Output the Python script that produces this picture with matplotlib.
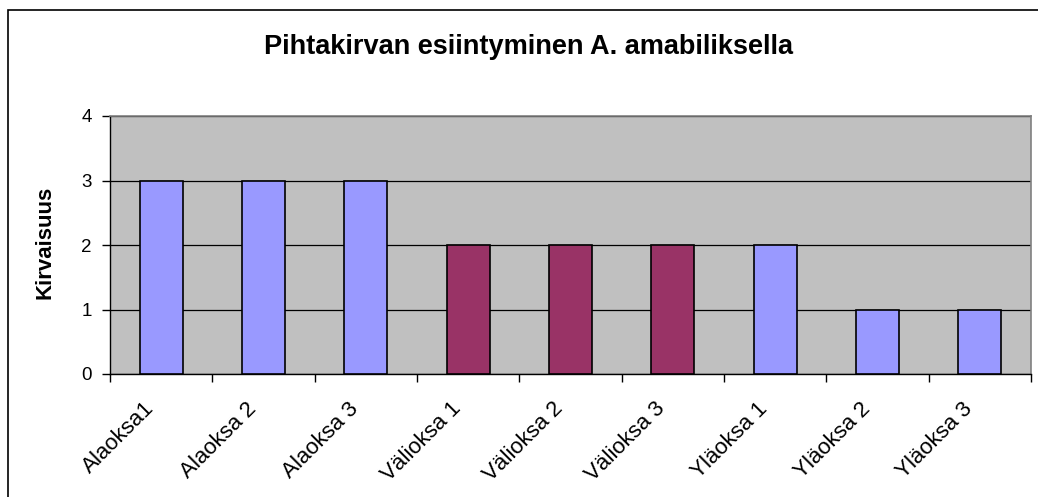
import matplotlib
matplotlib.use("Agg")
import matplotlib.pyplot as plt
from matplotlib.patches import Rectangle
from matplotlib.transforms import offset_copy

categories = ["Alaoksa1", "Alaoksa 2", "Alaoksa 3", "Välioksa 1", "Välioksa 2",
              "Välioksa 3", "Yläoksa 1", "Yläoksa 2", "Yläoksa 3"]
values = [3, 3, 3, 2, 2, 2, 2, 1, 1]
bar_colors = ["#9999FF", "#9999FF", "#9999FF", "#993366", "#993366",
              "#993366", "#9999FF", "#9999FF", "#9999FF"]
title = "Pihtakirvan esiintyminen A. amabiliksella"
ylabel = "Kirvaisuus"

plt.rcParams['font.family'] = ['Liberation Sans', 'DejaVu Sans']

W, H = 1038, 497
fig = plt.figure(figsize=(W / 100, H / 100), dpi=100)
fig.patch.set_facecolor("white")

# outer chart border
fig.add_artist(Rectangle((8 / W, -0.05), 1.2, 1.05 - 10 / H, transform=fig.transFigure,
                         fill=False, edgecolor="black", linewidth=1.2))

ax = fig.add_axes([110 / W, (H - 374) / H, (1031 - 110) / W, (374 - 116) / H])
ax.set_facecolor("#C0C0C0")

x = list(range(len(categories)))
ax.bar(x, values, width=0.42, color=bar_colors, edgecolor="black", linewidth=1.2, zorder=3)

ax.set_xlim(-0.5, len(categories) - 0.5)
ax.set_ylim(0, 4)
ax.set_yticks([0, 1, 2, 3, 4])
ax.yaxis.grid(True, color="black", linewidth=0.9, zorder=1)
ax.set_axisbelow(True)

ax.set_xticks([i + 0.5 for i in range(-1, len(categories))])
ax.set_xticklabels([])
ax.tick_params(axis="x", which="major", length=6, width=1, direction="out")
ax.tick_params(axis="y", length=6, width=1, direction="out", labelsize=13.5, pad=7)

# category labels, rotated 45 degrees, anchored at their upper-right end
lab_tr = offset_copy(ax.get_xaxis_transform(), fig=fig, x=-18, y=-24, units="dots")
for xi, lab in zip(x, categories):
    ax.text(xi, 0, lab, transform=lab_tr, rotation=45, ha="right", va="top",
            rotation_mode="anchor", fontsize=16)

for s in ["top", "right"]:
    ax.spines[s].set_color("#808080")
    ax.spines[s].set_linewidth(1.2)
for s in ["left", "bottom"]:
    ax.spines[s].set_color("black")
    ax.spines[s].set_linewidth(1)

fig.text(45 / W, 1 - 242 / H, ylabel, rotation=90, ha="center", va="center",
         fontsize=16, fontweight="bold")
fig.text(528 / W, 1 - 47 / H, title, ha="center", va="center", fontsize=19.5, fontweight="bold")

fig.savefig("out.png", dpi=100)
